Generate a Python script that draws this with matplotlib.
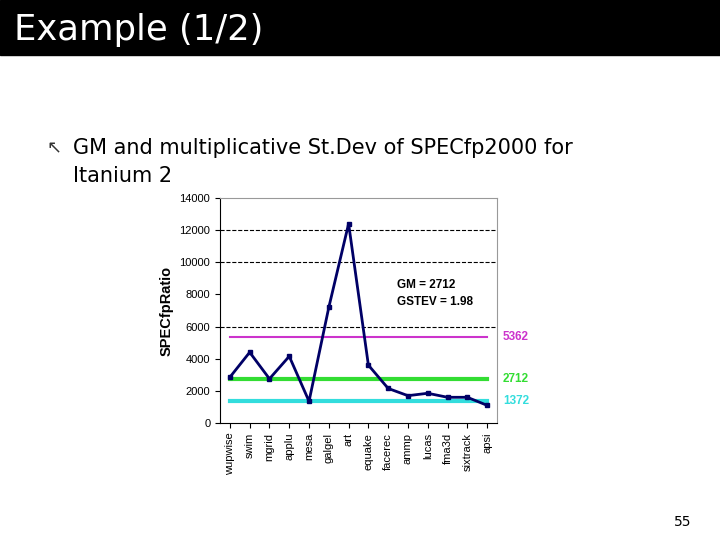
import matplotlib
matplotlib.use("Agg")
import matplotlib.pyplot as plt

benchmarks = ["wupwise", "swim", "mgrid", "applu", "mesa", "galgel", "art", "equake",
              "facerec", "ammp", "lucas", "fma3d", "sixtrack", "apsi"]
ratios = [2850, 4400, 2750, 4150, 1350, 7200, 12400, 3600, 2150, 1700, 1850, 1600, 1600, 1100]
ref_values = [5362, 2712, 1372]
ref_colors = ["#cc33cc", "#33dd33", "#33dddd"]
ref_widths = [1.5, 3, 3]

fig = plt.figure(figsize=(7.2, 5.4), dpi=100)
fig.patches.append(plt.Rectangle((0, 1 - 55/540), 1, 55/540, transform=fig.transFigure,
                                 color="black", zorder=0))
fig.text(0.02, 1 - 30/540, "Example (1/2)", color="white", fontsize=25.5, va="center",
         family="DejaVu Sans")
fig.text(0.065, 1 - 148/540, "\u2196", fontsize=13, va="center", color="#333333")
fig.text(0.102, 1 - 148/540, "GM and multiplicative St.Dev of SPECfp2000 for", fontsize=15, va="center")
fig.text(0.102, 1 - 176/540, "Itanium 2", fontsize=15, va="center")
fig.text(0.96, 1 - 522/540, "55", fontsize=10, ha="right", va="center")

ax = fig.add_axes([220/720, 1 - 423/540, 277/720, 225/540])
x = list(range(len(benchmarks)))
for v, c, w in zip(ref_values, ref_colors, ref_widths):
    ax.plot([0, len(benchmarks) - 1], [v, v], color=c, lw=w, zorder=2)
    ax.text(len(benchmarks) - 0.2, v, str(v), color=c, fontsize=8.5, fontweight="bold",
            va="center", ha="left", clip_on=False, family="Liberation Sans")
ax.plot(x, ratios, color="#000066", lw=2, marker="s", ms=3.5, zorder=3)
ax.set_xlim(-0.5, len(benchmarks) - 0.5)
ax.set_ylim(0, 14000)
ax.set_yticks(range(0, 14001, 2000))
for y in (6000, 10000, 12000):
    ax.axhline(y, color="black", ls="--", lw=0.8, zorder=1)
ax.set_xticks(x)
ax.set_xticklabels(benchmarks, rotation=90, fontsize=8, family="Liberation Sans")
ax.tick_params(axis="y", labelsize=8)
for lab in ax.get_yticklabels():
    lab.set_family("Liberation Sans")
ax.set_ylabel("SPECfpRatio", fontsize=10.5, fontweight="bold", family="Liberation Sans")
ax.text(0.64, 0.575, "GM = 2712\nGSTEV = 1.98", transform=ax.transAxes, fontsize=8.5,
        fontweight="bold", linespacing=1.6, family="Liberation Sans", va="center")
for s in ("top", "right"):
    ax.spines[s].set_color("#999999")
fig.savefig("out.png", dpi=100)
